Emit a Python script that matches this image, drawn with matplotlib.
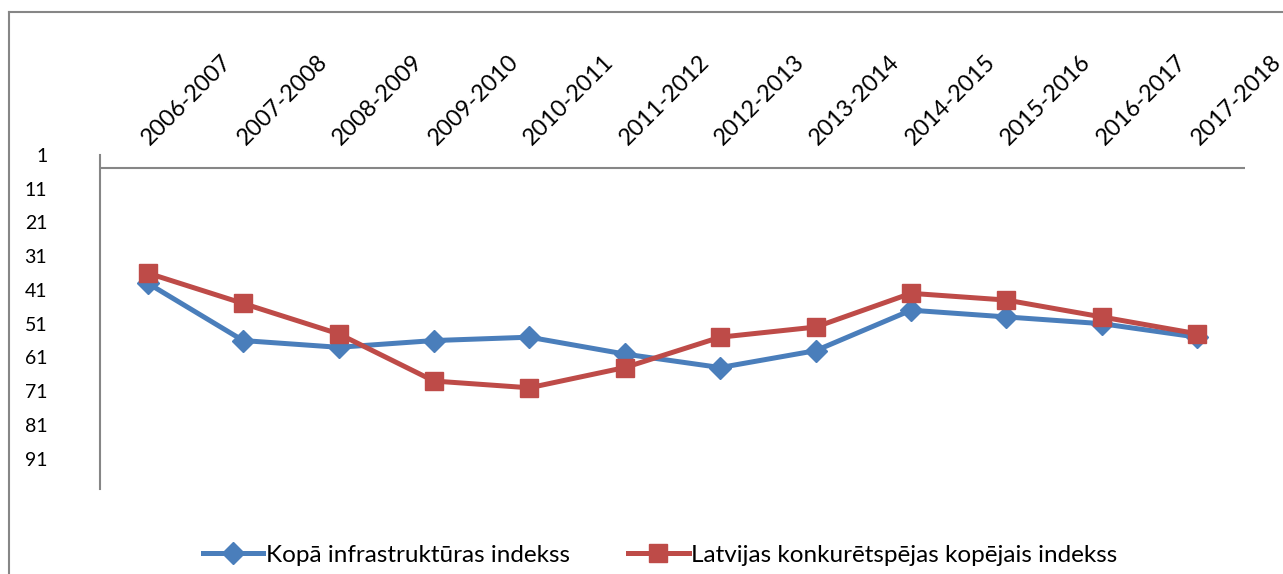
import matplotlib
matplotlib.use("Agg")
import matplotlib.pyplot as plt
import matplotlib.transforms as mtransforms
from matplotlib.lines import Line2D

plt.rcParams['font.family'] = ['Lato', 'DejaVu Sans']

# ranks (1 = best)
years = ['2006-2007', '2007-2008', '2008-2009', '2009-2010', '2010-2011', '2011-2012',
         '2012-2013', '2013-2014', '2014-2015', '2015-2016', '2016-2017', '2017-2018']
infra = [39, 56, 58, 56, 55, 60, 64, 59, 47, 49, 51, 55]
total = [36, 45, 54, 68, 70, 64, 55, 52, 42, 44, 49, 54]
yticks = [1, 11, 21, 31, 41, 51, 61, 71, 81, 91]

W, H = 1283, 574
fig = plt.figure(figsize=(W / 100, H / 100), dpi=100)
ax = fig.add_axes([100 / W, 1 - 489 / H, 1145 / W, (489 - 155) / H])

grey = '#868686'
x = list(range(len(years)))
ax.plot(x, infra, color='#4A7EBB', lw=3.6, marker='D', ms=11, mec='#4A7EBB', mfc='#4A7EBB',
        label='Kopā infrastruktūras indekss', zorder=3)
ax.plot(x, total, color='#BE4B48', lw=3.6, marker='s', ms=12.5, mec='#BE4B48', mfc='#BE4B48',
        label='Latvijas konkurētspējas kopējais indekss', zorder=4)

ax.set_xlim(-0.5, len(years) - 0.5)
ax.set_ylim(100, 1)
ax.set_yticks(yticks)
ax.tick_params(axis='y', length=0, labelsize=14, pad=38)
ax.set_xticks([])
for s in ['top', 'right', 'bottom']:
    ax.spines[s].set_visible(False)
ax.spines['left'].set_color(grey)
ax.spines['left'].set_linewidth(1.5)
ax.axhline(5, color=grey, lw=1.5, zorder=1)

# category labels above the horizontal axis
trans = mtransforms.blended_transform_factory(ax.transData, ax.transAxes)
trans = trans + mtransforms.ScaledTranslation(-2 / 100, 14 / 100, fig.dpi_scale_trans)
for i, yr in enumerate(years):
    ax.text(i, 1.0, yr, transform=trans, rotation=45, rotation_mode='anchor',
            ha='left', va='center', fontsize=16.8)

fig.legend(loc='center', bbox_to_anchor=(660 / W, 1 - 555 / H), ncol=2, frameon=False,
           fontsize=17.5, handlelength=2.5, columnspacing=2.4, handletextpad=0.1)

# outer chart border
fig.add_artist(Line2D([9 / W, 9 / W], [0, 1 - 12 / H], color=grey, lw=1.5))
fig.add_artist(Line2D([9 / W, 1], [1 - 12 / H, 1 - 12 / H], color=grey, lw=1.5))

fig.savefig('out.png', dpi=100)
